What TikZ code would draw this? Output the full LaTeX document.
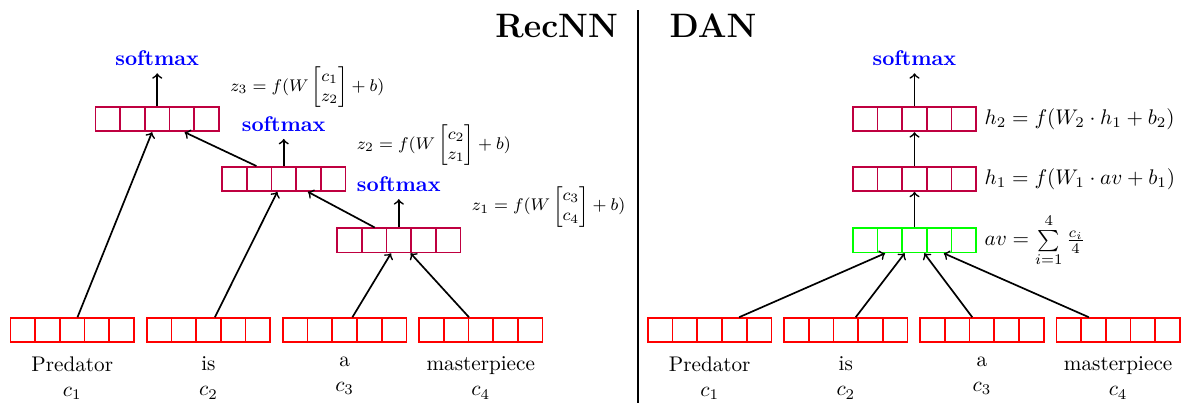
\documentclass[tikz,border=0pt]{standalone}
\usepackage{amsmath,amssymb}
\usepackage{tikz}
\usetikzlibrary{positioning,calc}

\begin{document}
\begin{tikzpicture}[>=to,
  vecbox/.style={draw=#1, thick, minimum width=2.05cm, minimum height=0.4cm, inner sep=0pt,
    path picture={\foreach \k in {1,2,3,4}
      \draw[#1,thick] ($(path picture bounding box.south west)+(\k*0.41,0)$) -- ++(0,0.4);}},
  soft/.style={text=blue, font=\bfseries},
  title/.style={font=\fontsize{16}{19}\selectfont\bfseries},
  zeq/.style={font=\footnotesize},
  conn/.style={->, thick}]
  \useasboundingbox (0,0) rectangle (19.62,6.69);
  % headings and separator
  \node[title, anchor=base east] (trec) at (10.38,6.06) {RecNN};
  \node[title, anchor=base west] (tdan) at (10.99,6.06) {DAN};
  \coordinate (septop) at (10.59,6.52);
  \coordinate (sepbot) at (10.59,0);
  \draw[thick] (septop) -- (sepbot);
  % RecNN
  \foreach \i/\x/\w in {1/1.20/Predator,2/3.46/is,3/5.72/a,4/7.98/masterpiece}{
    \node[vecbox=red] (w\i) at (\x,1.21) {};
    \node[align=center, below=0.1cm of w\i] (lw\i) {\w\\$c_\i$};
  }
  \node[vecbox=purple] (z1) at (6.62,2.70) {};
  \node[vecbox=purple] (z2) at (4.71,3.72) {};
  \node[vecbox=purple] (z3) at (2.61,4.71) {};
  \node[soft, above=0.47cm of z1] (s1) {softmax};
  \node[soft, above=0.45cm of z2] (s2) {softmax};
  \node[soft, above=0.55cm of z3] (s3) {softmax};
  \node[zeq, right=0.05cm of z1.east, yshift=0.56cm] (e1) {$z_1 = f(W \begin{bmatrix} c_3\\ c_4\end{bmatrix} + b)$};
  \node[zeq, right=0.05cm of z2.east, yshift=0.56cm] (e2) {$z_2 = f(W \begin{bmatrix} c_2\\ z_1\end{bmatrix} + b)$};
  \node[zeq, right=0.05cm of z3.east, yshift=0.53cm] (e3) {$z_3 = f(W \begin{bmatrix} c_1\\ z_2\end{bmatrix} + b)$};
  \draw[conn] (w3) -- (z1);
  \draw[conn] (w4) -- (z1);
  \draw[conn] (w2) -- (z2);
  \draw[conn] (z1) -- (z2);
  \draw[conn] (w1) -- (z3);
  \draw[conn] (z2) -- (z3);
  \draw[conn] (z1) -- (s1);
  \draw[conn] (z2) -- (s2);
  \draw[conn] (z3) -- (s3);
  % DAN
  \node[vecbox=green] (av) at (15.18,2.70) {};
  \node[vecbox=purple] (h1) at (15.18,3.72) {};
  \node[vecbox=purple] (h2) at (15.18,4.71) {};
  \foreach \i/\x/\w in {1/11.78/Predator,2/14.04/is,3/16.30/a,4/18.56/masterpiece}{
    \node[vecbox=red] (d\i) at (\x,1.21) {};
    \node[align=center, below=0.1cm of d\i] (ld\i) {\w\\$c_\i$};
    \draw[conn] (d\i) -- (av);
  }
  \node[soft, above=0.55cm of h2] (sd) {softmax};
  \node[right=0pt of av] (eav) {$av = \sum\limits_{i=1}^{4} \frac{c_i}{4}$};
  \node[right=0pt of h1] (eh1) {$h_1 = f(W_1 \cdot av + b_1)$};
  \node[right=0pt of h2] (eh2) {$h_2 = f(W_2 \cdot h_1 + b_2)$};
  \draw[conn] (av) -- (h1);
  \draw[conn] (h1) -- (h2);
  \draw[conn] (h2) -- (sd);
\end{tikzpicture}
\end{document}
